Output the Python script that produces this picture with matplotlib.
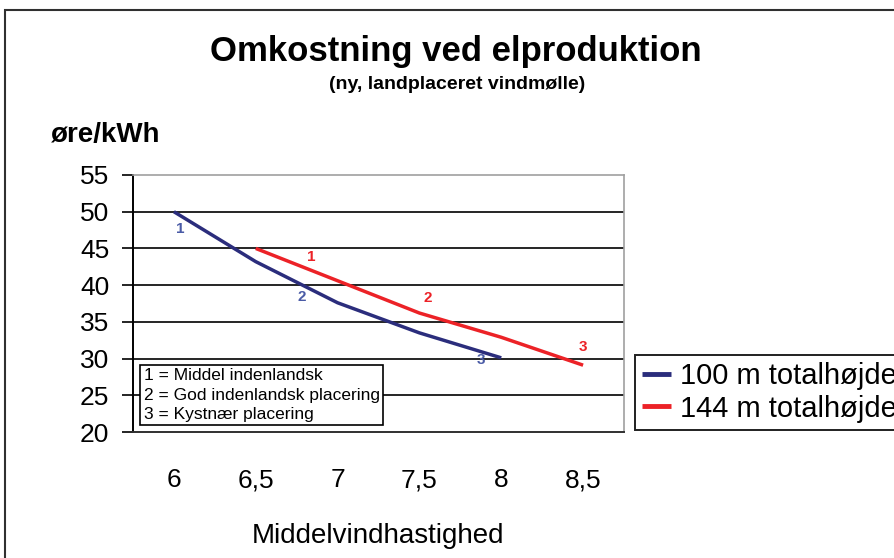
import matplotlib
matplotlib.use('Agg')
import matplotlib.pyplot as plt
from matplotlib.patches import Rectangle

plt.rcParams['font.family'] = ['Liberation Sans', 'DejaVu Sans']

# kategorier på x-aksen (middelvindhastighed, m/s)
categories = ['6', '6,5', '7', '7,5', '8', '8,5']

# 100 m totalhøjde
blue_cats = ['6', '6,5', '7', '7,5', '8']
blue_vals = [50.0, 43.2, 37.6, 33.5, 30.1]
blue_marks = ['1', '', '2', '', '3']

# 144 m totalhøjde
red_cats = ['6,5', '7', '7,5', '8', '8,5']
red_vals = [45.0, 40.6, 36.2, 32.9, 29.1]
red_marks = ['', '1', '2', '', '3']

yticks = [20, 25, 30, 35, 40, 45, 50, 55]
series_names = ['100 m totalhøjde', '144 m totalhøjde']
note = '1 = Middel indenlandsk\n2 = God indenlandsk placering\n3 = Kystnær placering'

blue = '#2b2d7c'
red = '#ec2227'
blue_txt = '#4a5ba6'

W, H = 894, 558
fig = plt.figure(figsize=(W / 100, H / 100), dpi=100)
ax = fig.add_axes([133 / W, 1 - 432 / H, 491 / W, 257 / H])

pos = {c: i for i, c in enumerate(categories)}
bx = [pos[c] for c in blue_cats]
rx = [pos[c] for c in red_cats]
ax.plot(bx, blue_vals, color=blue, lw=2.5, solid_capstyle='butt', label=series_names[0], zorder=3)
ax.plot(rx, red_vals, color=red, lw=2.5, solid_capstyle='butt', label=series_names[1], zorder=3)

# punktnumre (offset i pixels -> punkter)
px = 0.72
blue_off = [(6, -17), None, (-36, 6), None, (-20, -2)]
red_off = [None, (-26, 24), (8, 15), None, (0, 18)]
for x, y, m, o in zip(bx, blue_vals, blue_marks, blue_off):
    if m:
        ax.annotate(m, (x, y), xytext=(o[0] * px, o[1] * px), textcoords='offset points',
                    ha='center', va='center', fontsize=11, fontweight='bold', color=blue_txt)
for x, y, m, o in zip(rx, red_vals, red_marks, red_off):
    if m:
        ax.annotate(m, (x, y), xytext=(o[0] * px, o[1] * px), textcoords='offset points',
                    ha='center', va='center', fontsize=11, fontweight='bold', color=red)

ax.set_xlim(-0.5, len(categories) - 0.5)
ax.set_ylim(20, 55)
ax.set_xticks(range(len(categories)))
ax.set_xticklabels(categories, fontsize=19)
ax.set_yticks(yticks)
ax.set_yticklabels([str(t) for t in yticks], fontsize=19)
ax.tick_params(axis='x', length=0, pad=26)
ax.tick_params(axis='y', length=8, width=1.2, pad=9, direction='out')

ax.grid(axis='y', color='black', lw=1.2)
ax.yaxis.get_gridlines()[-1].set_visible(False)
ax.yaxis.get_gridlines()[0].set_visible(False)
ax.set_axisbelow(True)
for s in ['top', 'right']:
    ax.spines[s].set_color('#a0a0a0')
    ax.spines[s].set_linewidth(1.2)
ax.spines['left'].set_color('black')
ax.spines['left'].set_linewidth(1.4)
ax.spines['bottom'].set_color('#303030')
ax.spines['bottom'].set_linewidth(1.4)

ax.text(0.022, 0.04, note, transform=ax.transAxes, fontsize=12.5, linespacing=1.35,
        ha='left', va='bottom', zorder=5,
        bbox=dict(boxstyle='square,pad=0.2', fc='white', ec='black', lw=1.2))

ax.set_xlabel('Middelvindhastighed', fontsize=20, labelpad=22)

fig.text(456 / W, 1 - 52 / H, 'Omkostning ved elproduktion', fontsize=25, fontweight='bold',
         ha='center', va='center')
fig.text(457 / W, 1 - 85 / H, '(ny, landplaceret vindmølle)', fontsize=14, fontweight='bold',
         ha='center', va='center')
fig.text(51 / W, 1 - 135 / H, 'øre/kWh', fontsize=20, fontweight='bold', ha='left', va='center')

leg = fig.legend(loc='upper left', bbox_to_anchor=(635 / W, 1 - 355 / H), fontsize=21,
                 frameon=True, fancybox=False, edgecolor='#202020', framealpha=1,
                 handlelength=1.0, handletextpad=0.3, borderpad=0.25, labelspacing=0.15,
                 borderaxespad=0)
leg.get_frame().set_linewidth(1.4)
for line in leg.get_lines():
    line.set_linewidth(3.5)

# ramme om hele diagrammet
fig.patches.append(Rectangle((5 / W, -0.1), 1.2, 1 - 10 / H + 0.1, transform=fig.transFigure,
                             fill=False, ec='#303030', lw=1.5))

fig.savefig('out.png', dpi=100)
